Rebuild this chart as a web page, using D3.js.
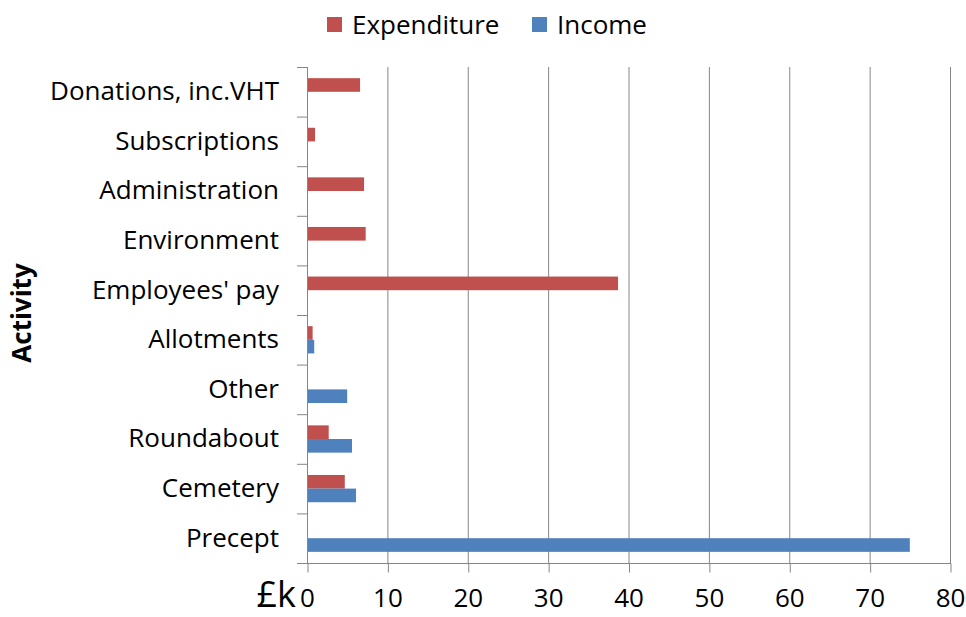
<!DOCTYPE html>
<html>
  <head>
    <meta charset="utf-8">
    <title>Expenditure and income by activity</title>
    <script src="https://cdn.jsdelivr.net/npm/d3@7"></script>
    <style>
      body { margin: 0; background: #fff; }
      svg text { font-family: "Open Sans", sans-serif; fill: #000; }
    </style>
  </head>
  <body>
    <svg id="chart" width="966" height="617"></svg>
    <script>
      // data, top to bottom
      categories = ["Donations, inc.VHT", "Subscriptions", "Administration", "Environment",
        "Employees' pay", "Allotments", "Other", "Roundabout", "Cemetery", "Precept"];
      expenditure = [6.6, 1.0, 7.1, 7.3, 38.7, 0.7, 0, 2.7, 4.7, 0];
      income = [0, 0, 0, 0, 0, 0.9, 5.0, 5.6, 6.1, 75.0];
      seriesNames = ["Expenditure", "Income"];
      seriesColours = ["#C0504D", "#4F81BD"];
      xTicks = [0, 10, 20, 30, 40, 50, 60, 70, 80];

      chart = d3.select("#chart");
      margin = { top: 67, right: 16, bottom: 54, left: 307 };
      width = 966;
      height = 617;
      gridColour = "#868686";
      fontSize = "26px";

      x = d3.scaleLinear()
        .domain([0, 80])
        .range([margin.left, 950]);
      y = d3.scaleBand()
        .domain(categories)
        .range([margin.top, height - margin.bottom]);
      // two bars per band, about 27px of the ~50px band
      groupWidth = y.bandwidth() * 0.55;
      ySeries = d3.scaleBand()
        .domain(seriesNames)
        .range([0, groupWidth]);

      // gridlines
      chart.append("g")
        .selectAll("line")
        .data(xTicks.slice(1))
        .join("line")
        .attr("x1", d => x(d) + 0.5)
        .attr("x2", d => x(d) + 0.5)
        .attr("y1", margin.top)
        .attr("y2", height - margin.bottom)
        .attr("stroke", gridColour)
        .attr("stroke-width", 1);

      // bars
      rows = categories.map((c, i) => ({ category: c, values: [expenditure[i], income[i]] }));
      groups = chart.append("g")
        .selectAll("g")
        .data(rows)
        .join("g")
        .attr("transform", d => "translate(0," + (y(d.category) + (y.bandwidth() - groupWidth) / 2) + ")");
      groups.selectAll("rect")
        .data(d => d.values.map((v, j) => ({ name: seriesNames[j], value: v, colour: seriesColours[j] })))
        .join("rect")
        .attr("x", x(0))
        .attr("y", d => ySeries(d.name))
        .attr("width", d => x(d.value) - x(0))
        .attr("height", ySeries.bandwidth())
        .attr("fill", d => d.colour);

      // y axis
      yAxis = d3.axisLeft(y)
        .tickSize(0)
        .tickPadding(28);
      yGroup = chart.append("g")
        .attr("transform", "translate(" + margin.left + ",0)")
        .call(yAxis);
      yGroup.select(".domain")
        .attr("stroke", gridColour)
        .attr("d", "M0.5," + margin.top + "V" + (height - margin.bottom));
      yGroup.selectAll(".tick text")
        .style("font-size", fontSize)
        .attr("dy", "0.32em");
      // category boundary ticks
      bounds = categories.map(c => y(c)).concat([height - margin.bottom]);
      chart.append("g")
        .selectAll("line")
        .data(bounds)
        .join("line")
        .attr("x1", margin.left - 10)
        .attr("x2", margin.left)
        .attr("y1", d => d + 0.5)
        .attr("y2", d => d + 0.5)
        .attr("stroke", gridColour);

      // x axis
      xAxis = d3.axisBottom(x)
        .tickValues(xTicks)
        .tickSize(9)
        .tickPadding(16)
        .tickSizeOuter(0);
      xGroup = chart.append("g")
        .attr("transform", "translate(0," + (height - margin.bottom + 0.5) + ")")
        .call(xAxis);
      xGroup.select(".domain")
        .attr("stroke", gridColour)
        .attr("d", "M" + (margin.left - 10) + ",0H" + (x(80) + 1));
      xGroup.selectAll(".tick line").attr("stroke", gridColour).attr("transform", "translate(0.5,0)");
      xGroup.selectAll(".tick text")
        .style("font-size", fontSize);

      // unit label
      chart.append("text")
        .attr("x", 296)
        .attr("y", 607)
        .attr("text-anchor", "end")
        .style("font-size", "36px")
        .text("£k");

      // axis title
      chart.append("text")
        .attr("transform", "translate(31,313) rotate(-90)")
        .attr("text-anchor", "middle")
        .style("font-size", "26px")
        .style("font-weight", "bold")
        .text("Activity");

      // legend
      legendX = [327, 532];
      legend = chart.append("g")
        .selectAll("g")
        .data(seriesNames)
        .join("g")
        .attr("transform", (d, i) => "translate(" + legendX[i] + ",17)");
      legend.append("rect")
        .attr("width", 15)
        .attr("height", 15)
        .attr("fill", (d, i) => seriesColours[i]);
      legend.append("text")
        .attr("x", 25)
        .attr("y", 7.5)
        .attr("dy", "0.35em")
        .style("font-size", fontSize)
        .text(d => d);
    </script>
  </body>
</html>
